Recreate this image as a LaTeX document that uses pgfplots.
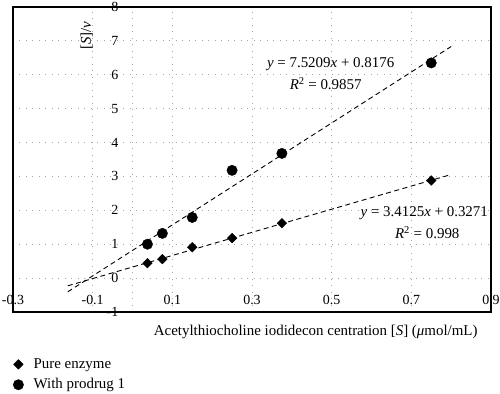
\documentclass[border=0pt]{standalone}
\usepackage{fontspec}
\setmainfont{Liberation Serif}
\usepackage{pgfplots}
\pgfplotsset{compat=1.18}
\begin{document}
\fontsize{15}{18}\selectfont
\begin{tikzpicture}
\useasboundingbox (-13bp,-82bp) rectangle (487bp,312bp);
\begin{axis}[
  scale only axis,
  width=478bp, height=305bp,
  at={(0,0)}, anchor=south west,
  xmin=-0.3, xmax=0.9, ymin=-1, ymax=8,
  axis lines=middle,
  axis line style={draw=gray!70, line width=0.8bp, dash pattern=on 1bp off 5.5bp, -},
  hide obscured x ticks=false, hide obscured y ticks=false,
  xtick={-0.3,-0.1,0.1,0.3,0.5,0.7,0.9},
  xticklabels={-0.3,-0.1,0.1,0.3,0.5,0.7,0.9},
  ytick={-1,0,1,2,3,4,5,6,7,8},
  yticklabels={-1,0,1,2,3,4,5,6,7,8},
  major tick length=0pt,
  tick label style={font=\fontsize{14}{16}\selectfont},
  xticklabel style={anchor=north, yshift=-12bp},
  yticklabel style={anchor=east, xshift=-9bp},
  grid=major,
  major grid style={draw=gray!70, line width=0.8bp, dash pattern=on 1bp off 5.5bp},
  clip=false,
  legend style={at={(axis description cs:0.0,-0.145)}, anchor=north west, draw=none, fill=none,
    font=\fontsize{15}{18}\selectfont, row sep=4bp, inner sep=0pt,
    nodes={inner sep=2bp},
    /tikz/every odd column/.append style={column sep=8bp}},
  legend cell align=left,
]
\addplot[only marks, mark=square*, mark size=3.4bp, mark options={rotate=45, fill=black, draw=black}]
  coordinates {(0.0375,0.44) (0.075,0.56) (0.15,0.91) (0.25,1.18) (0.375,1.62) (0.75,2.88)};
\addlegendentry{Pure enzyme}
\addplot[only marks, mark=*, mark size=5.2bp, mark options={fill=black, draw=black}]
  coordinates {(0.0375,1.0) (0.075,1.32) (0.15,1.79) (0.25,3.18) (0.375,3.68) (0.75,6.35)};
\addlegendentry{With prodrug 1}
\addplot[black, line width=0.9bp, dash pattern=on 5bp off 3.5bp, forget plot]
  coordinates {(-0.1625,-0.2274) (0.8,3.0571)};
\addplot[black, line width=0.9bp, dash pattern=on 5bp off 3.5bp, forget plot]
  coordinates {(-0.1625,-0.4045) (0.8,6.8343)};
\draw[black, line width=1.2bp] (rel axis cs:0,0) rectangle (rel axis cs:1,1);
\node[rotate=90] at (axis cs:-0.115,7.15) {[\textit{S}]/\textit{v}};
\node at (axis cs:0.46,-1.59) {Acetylthiocholine iodidecon centration [\textit{S}] (\textit{μ}mol/mL)};
\node at (axis cs:0.4975,6.32) {\textit{y} = 7.5209\textit{x} + 0.8176};
\node at (axis cs:0.485,5.74) {\textit{R}\textsuperscript{2} = 0.9857};
\node at (axis cs:0.7325,1.91) {\textit{y} = 3.4125\textit{x} + 0.3271};
\node at (axis cs:0.74,1.35) {\textit{R}\textsuperscript{2} = 0.998};
\end{axis}
\end{tikzpicture}
\end{document}
